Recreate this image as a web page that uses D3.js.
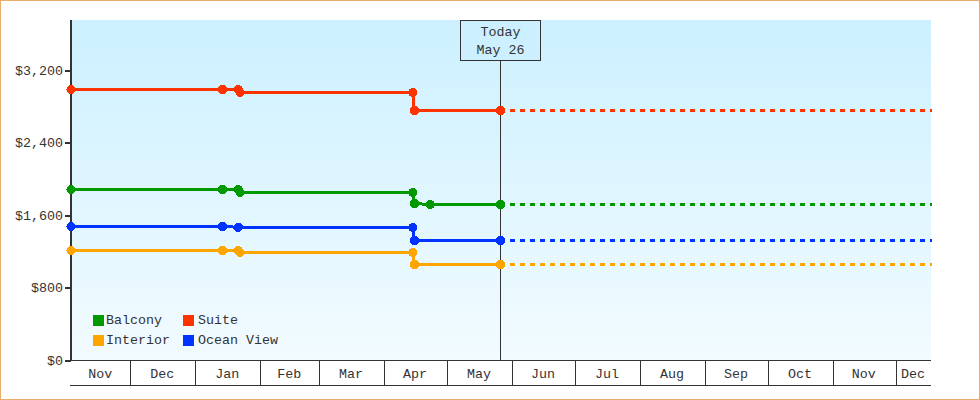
<!DOCTYPE html>
<html><head><meta charset="utf-8">
<script src="https://cdn.jsdelivr.net/npm/d3@7"></script>
<style>
html,body{margin:0;padding:0;background:#fff}
svg{display:block}
text{font-family:"Liberation Mono",monospace;font-size:13.33px;fill:#333}
</style></head><body><svg id="c" width="980" height="400"></svg>
<script>
const startDate="2018-11-03", endDate="2019-12-18", todayDate="2019-05-26T12:00:00Z";
const yTicks=[0,800,1600,2400,3200];
const monthStarts=["2018-11-03","2018-12-01","2019-01-01","2019-02-01","2019-03-01","2019-04-01","2019-05-01","2019-06-01","2019-07-01","2019-08-01","2019-09-01","2019-10-01","2019-11-01","2019-12-01"];
const firstDate="2018-11-02T18:00:00Z", d2="2019-01-14", d3a="2019-01-21T12:00:00Z", d3b="2019-01-22T08:00:00Z", d4a="2019-04-14T18:00:00Z", d4b="2019-04-15T12:00:00Z", d5="2019-04-23";
const balconyDates=[firstDate,d2,d3a,d3b,d4a,d4b,d5,todayDate];
const balconyValues=[1881,1881,1881,1848,1848,1727,1716,1716];
const suiteDates=[firstDate,d2,d3a,d3b,d4a,d4b,todayDate];
const suiteValues=[2985,2985,2985,2952,2952,2753,2753];
const oceanDates=[firstDate,d2,d3a,d4a,d4b,todayDate];
const oceanValues=[1473,1473,1465,1462,1319,1319];
const interiorDates=[firstDate,d2,d3a,d3b,d4a,d4b,todayDate];
const interiorValues=[1208,1208,1208,1186,1186,1054,1054];
const series=[
 {name:"Balcony",color:"#009900",dates:balconyDates,values:balconyValues},
 {name:"Suite",color:"#ff3300",dates:suiteDates,values:suiteValues},
 {name:"Interior",color:"#ffa500",dates:interiorDates,values:interiorValues},
 {name:"Ocean View",color:"#0033ff",dates:oceanDates,values:oceanValues}
];
const W=980,H=400,L=71,R=931,T=20,B=360,AB=385;
const parse=d3.isoParse;
const x=d3.scaleUtc().domain([parse(startDate),parse(endDate)]).range([L+0.5,R+0.5]);
const y=d3.scaleLinear().domain([0,3752]).range([B,T]);
const svg=d3.select("#c");
const defs=svg.append("defs");
const g=defs.append("linearGradient").attr("id","bg").attr("x1",0).attr("x2",0).attr("y1",0).attr("y2",1);
g.append("stop").attr("offset",0).attr("stop-color","#ccf0ff");
g.append("stop").attr("offset",1).attr("stop-color","#f2fbff");
svg.append("rect").attr("x",0.5).attr("y",0.5).attr("width",W-1).attr("height",H-1).attr("fill","#fff").attr("stroke","#e8ad6c");
svg.append("rect").attr("x",L).attr("y",T).attr("width",R-L).attr("height",B-T).attr("fill","url(#bg)");

// today line
const tx=Math.round(x(parse(todayDate)))+0.5;
svg.append("line").attr("x1",tx).attr("x2",tx).attr("y1",60).attr("y2",B).attr("stroke","#333");

// x axis
const months=monthStarts.map(parse);
const xa=svg.append("g").attr("transform",`translate(0,${B+0.5})`)
 .call(d3.axisBottom(x).tickValues(months).tickSize(25).tickFormat(d3.utcFormat("%b")));
xa.select(".domain").remove();
xa.selectAll(".tick line").attr("stroke","#333").attr("shape-rendering","crispEdges")
  .filter((d,i)=>i===0).remove();
xa.selectAll(".tick text").attr("y",17).attr("dy",0)
  .attr("x",(d,i)=>((i<months.length-1?x(months[i+1]):R)-x(d))/2-1).attr("fill","#222");
xa.attr("font-family",null).attr("font-size",null);
svg.append("line").attr("x1",70).attr("x2",R).attr("y1",B+0.5).attr("y2",B+0.5).attr("stroke","#333");
svg.append("line").attr("x1",70).attr("x2",R).attr("y1",AB+0.5).attr("y2",AB+0.5).attr("stroke","#333");

// y axis
const ya=svg.append("g").attr("transform",`translate(${L},0)`)
 .call(d3.axisLeft(y).tickValues(yTicks).tickSize(6).tickPadding(2).tickFormat(d=>"$"+d3.format(",")(d)));
ya.attr("font-family",null).attr("font-size",null);
ya.select(".domain").remove();
ya.selectAll(".tick line").attr("stroke","#333").attr("stroke-width",2).attr("shape-rendering","crispEdges");
ya.selectAll(".tick text").attr("fill","#444");
svg.append("rect").attr("x",70).attr("y",T).attr("width",2).attr("height",B-T+1).attr("fill","#333");

// lines
const order=["Balcony","Ocean View","Interior","Suite"];
const line=d3.line().x(d=>x(d[0])).y(d=>y(d[1]));
order.forEach(n=>{
 const s=series.find(v=>v.name===n);
 const pts=s.dates.map((d,i)=>[parse(d),s.values[i]]);
 const last=pts[pts.length-1];
 svg.append("path").attr("d",line([last,[parse(endDate),last[1]]])).attr("fill","none")
  .attr("stroke",s.color).attr("stroke-width",3).attr("stroke-dasharray","5 5").attr("shape-rendering","crispEdges");
 svg.append("path").attr("d",line(pts)).attr("fill","none").attr("stroke",s.color).attr("stroke-width",3).attr("shape-rendering","crispEdges");
 svg.selectAll(null).data(pts).enter().append("circle")
  .attr("cx",d=>x(d[0])).attr("cy",d=>y(d[1])).attr("r",4.6).attr("fill",s.color).attr("shape-rendering","crispEdges");
});

// today box
svg.append("rect").attr("x",460.5).attr("y",20.5).attr("width",80).attr("height",40)
 .attr("fill","#ccf0ff").attr("stroke","#333");
["Today","May 26"].forEach((t,i)=>svg.append("text").attr("x",500.5).attr("y",36+i*18)
 .attr("text-anchor","middle").text(t));

// legend
const lx=[93,183], tx2=[106,198], ly=[315,335];
series.forEach((s,i)=>{
 const c=i%2,r=Math.floor(i/2);
 svg.append("rect").attr("x",lx[c]).attr("y",ly[r]).attr("width",11).attr("height",11).attr("fill",s.color);
 svg.append("text").attr("x",tx2[c]).attr("y",ly[r]+9).text(s.name);
});
</script></body></html>
